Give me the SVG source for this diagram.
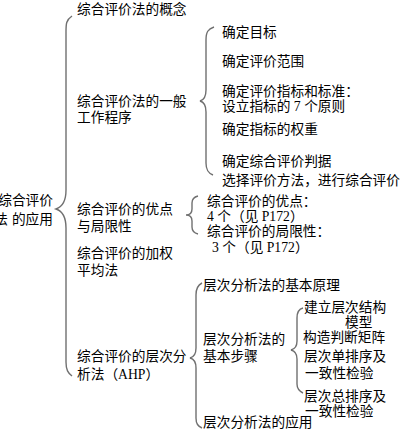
<svg xmlns="http://www.w3.org/2000/svg" width="401" height="435" viewBox="0 0 401 435">
<style>
text{font-family:"Liberation Serif","Noto Sans CJK SC",serif;font-size:13.7px;fill:#000}
.brace{fill:none;stroke:#707070;stroke-width:1.4}
</style>
<rect width="401" height="435" fill="#fff"/>
<g id="connectors">
<path class="brace" d="M72,16 C66,20 66,24 66,32 L66,190 C66,202 62,207 56,209 C62,211 66,216 66,228 L66,362 C66,370 68,373 72,376"/>
<path class="brace" d="M214,27 C208,29 206,32 206,40 L206,90 C206,97 204,100 200,101 C204,102 206,105 206,112 L206,163 C206,170 208,173 213,175"/>
<path class="brace" d="M198,196 C194,197 192,199 192,203 L192,209 C192,213 190,215 186,215 C190,215 192,217 192,221 L192,227 C192,231 194,233 198,234"/>
<path class="brace" d="M202,283 C198,285 196,288 196,295 L196,348 C196,354 194,357 190,358 C194,359 196,362 196,368 L196,418 C196,424 198,426 202,428"/>
<path class="brace" d="M303,308 C299,309 297,312 297,318 L297,341 C297,346 295,349 291,350 C295,351 297,354 297,359 L297,384 C297,389 299,391 303,393"/>
</g>
<g id="root">
<text x="53" y="205" text-anchor="end">综合评价</text>
<text x="53" y="223.5" text-anchor="end">法<tspan dx="4">的应用</tspan></text>
</g>
<g id="n-concept"><text x="77" y="13.5">综合评价法的概念</text></g>
<g id="n-procedure">
<text x="77" y="106">综合评价法的一般</text>
<text x="77" y="122">工作程序</text>
</g>
<g id="n-proc-items">
<text x="222" y="37">确定目标</text>
<text x="222" y="66">确定评价范围</text>
<text x="222" y="96">确定评价指标和标准：</text>
<text x="222" y="111">设立指标的 7 个原则</text>
<text x="222" y="134">确定指标的权重</text>
<text x="222" y="166">确定综合评价判据</text>
<text x="222" y="185">选择评价方法，进行综合评价</text>
</g>
<g id="n-pros">
<text x="77" y="214">综合评价的优点</text>
<text x="77" y="231">与局限性</text>
</g>
<g id="n-pros-items">
<text x="207" y="206">综合评价的优点：</text>
<text x="207" y="221">4 个（见 P172）</text>
<text x="207" y="236">综合评价的局限性：</text>
<text x="212" y="252">3 个（见 P172）</text>
</g>
<g id="n-weighted">
<text x="77" y="258">综合评价的加权</text>
<text x="77" y="275">平均法</text>
</g>
<g id="n-ahp">
<text x="77" y="361">综合评价的层次分</text>
<text x="77" y="379">析法（AHP）</text>
</g>
<g id="n-ahp-principle"><text x="203" y="290">层次分析法的基本原理</text></g>
<g id="n-ahp-steps">
<text x="203" y="344">层次分析法的</text>
<text x="203" y="361">基本步骤</text>
</g>
<g id="n-ahp-app"><text x="203" y="427">层次分析法的应用</text></g>
<g id="n-steps-items">
<text x="304" y="312">建立层次结构</text>
<text x="345" y="327">模型</text>
<text x="303" y="342">构造判断矩阵</text>
<text x="304" y="361">层次单排序及</text>
<text x="305" y="378">一致性检验</text>
<text x="304" y="401">层次总排序及</text>
<text x="305" y="416">一致性检验</text>
</g>
</svg>
